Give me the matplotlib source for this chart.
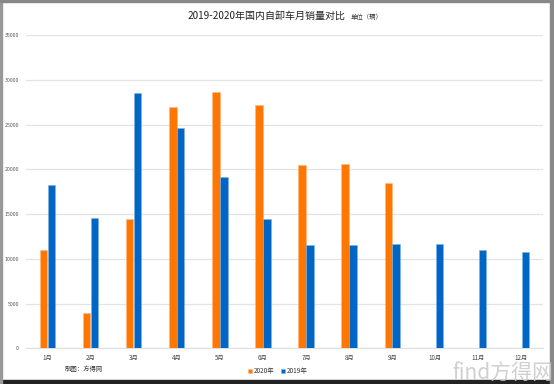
import matplotlib
matplotlib.use("Agg")
import matplotlib.pyplot as plt
from matplotlib.patches import Rectangle
import numpy as np

plt.rcParams['font.family'] = ['Noto Sans CJK SC', 'DejaVu Sans']

months = ["1月", "2月", "3月", "4月", "5月", "6月", "7月", "8月", "9月", "10月", "11月", "12月"]
sales_2020 = [11000, 4000, 14500, 27000, 28700, 27200, 20500, 20600, 18500, None, None, None]
sales_2019 = [18300, 14600, 28500, 24600, 19100, 14500, 11600, 11600, 11700, 11650, 11000, 10800]
yticks = [0, 5000, 10000, 15000, 20000, 25000, 30000, 35000]

W, H = 554, 384
fig = plt.figure(figsize=(W / 100, H / 100), dpi=100)
ax = fig.add_axes([26 / W, (H - 348.3) / H, (543 - 26) / W, (348.3 - 35.3) / H])

x = np.arange(len(months))
bw = 0.172
off = 0.092
orange = "#FF7700"
blue = "#0066C6"
x20 = [xi for xi, v in zip(x, sales_2020) if v is not None]
v20 = [v for v in sales_2020 if v is not None]
ax.bar(np.array(x20) - off, v20, width=bw, color=orange, edgecolor="#FFB880", linewidth=0.4, label="2020年", zorder=3)
ax.bar(x + off, sales_2019, width=bw, color=blue, edgecolor="#7FB2E2", linewidth=0.4, label="2019年", zorder=3)

ax.set_xlim(-0.5, 11.5)
ax.set_ylim(0, 35000)
ax.set_yticks(yticks)
ax.set_yticklabels([str(v) for v in yticks], fontsize=3.8, color="#555555")
ax.set_xticks(x)
ax.set_xticklabels(months, fontsize=4.5, color="#444444")
ax.tick_params(axis='both', length=0)
ax.tick_params(axis='y', pad=5)
ax.tick_params(axis='x', pad=4)
ax.grid(axis='y', color="#E3E3E3", linewidth=0.9, zorder=0)
for s in ["top", "right", "left"]:
    ax.spines[s].set_visible(False)
ax.spines["bottom"].set_color("#E0E0E0")
ax.spines["bottom"].set_linewidth(0.9)

fig.text(346 / W, 1 - 16 / H, "2019-2020年国内自卸车月销量对比", fontsize=7.2, ha="right", va="center", color="#222222")
fig.text(351 / W, 1 - 16.5 / H, "单位（辆）", fontsize=4.6, ha="left", va="center", color="#333333")

leg = fig.legend(loc="center", bbox_to_anchor=(278 / W, 1 - 371 / H), ncol=2, frameon=False,
                 fontsize=4.6, handlelength=0.6, handleheight=0.6, handletextpad=0.3, columnspacing=1.0,
                 labelcolor="#333333")
fig.text(65 / W, 1 - 368.5 / H, "制图：方得网", fontsize=4.6, ha="left", va="center", color="#333333")

fig.text(553 / W, 1 - 373 / H, "find方得网", fontsize=15, ha="right", va="center", color="#C8C8C8",
         alpha=0.85, zorder=10)

# frame lines of screenshot
fig.patches.append(Rectangle((0, 0), 1, 4 / H, transform=fig.transFigure, color="#222222", zorder=5))
fig.patches.append(Rectangle((0, 0), 2 / W, 1, transform=fig.transFigure, color="#999999", zorder=5))
fig.patches.append(Rectangle((550 / W, 0), 4 / W, 1, transform=fig.transFigure, color="#888888", zorder=5))
fig.patches.append(Rectangle((0, 1 - 1.5 / H), 1, 1.5 / H, transform=fig.transFigure, color="#888888", zorder=5))

fig.savefig("out.png", dpi=100)
